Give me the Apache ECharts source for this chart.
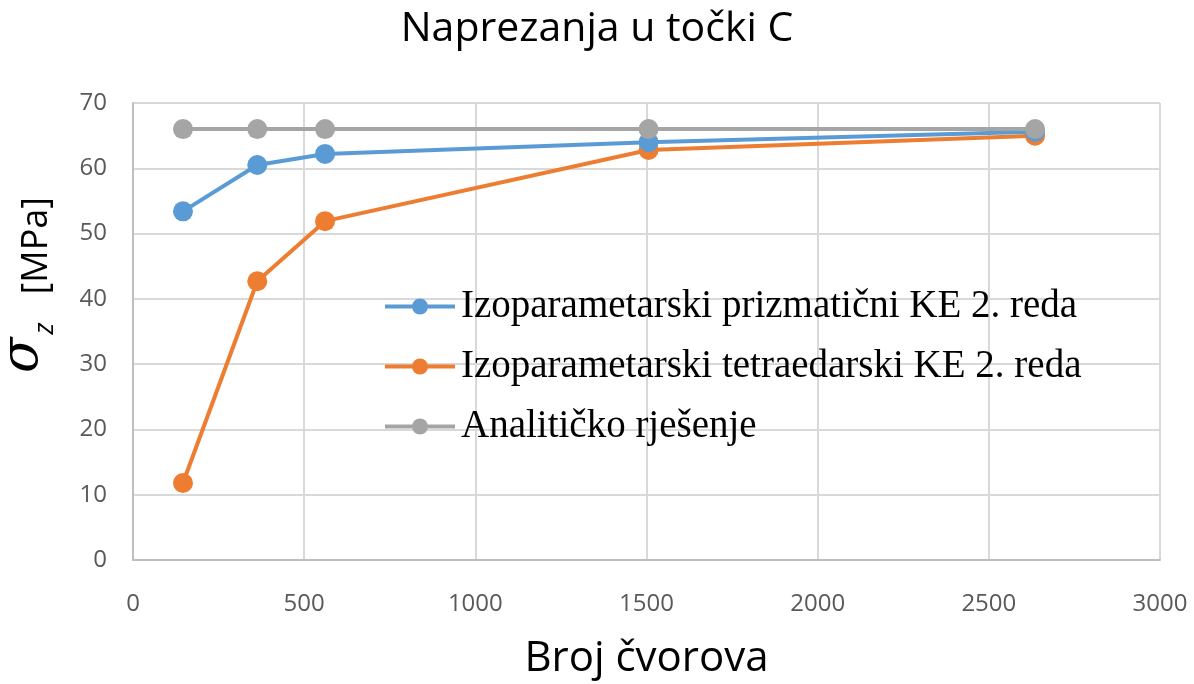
<!DOCTYPE html>
<html>
<head>
<meta charset="utf-8">
<script src="https://cdn.jsdelivr.net/npm/echarts@6/dist/echarts.min.js"></script>
<style>html,body{margin:0;padding:0;background:#fff}#c{width:1194px;height:684px}</style>
</head>
<body>
<div id="c"></div>
<script>
var nodes = [146, 363, 561, 1506, 2635];
var prizmaticni = [53.4, 60.5, 62.2, 64.0, 65.6];
var tetraedarski = [11.8, 42.7, 51.9, 62.8, 65.0];
var analiticko = [66, 66, 66, 66, 66];
var seriesNames = ['Izoparametarski prizmatični KE 2. reda', 'Izoparametarski tetraedarski KE 2. reda', 'Analitičko rješenje'];
var colors = ['#5b9bd5', '#ed7d31', '#a5a5a5'];

function pairs(ys){ return nodes.map(function(x,i){ return [x, ys[i]]; }); }

var chart = echarts.init(document.getElementById('c'));
var mk = function(name, ys, color, z){
  return {
    name: name, type: 'line', data: pairs(ys), z: z,
    symbol: 'circle', symbolSize: 20,
    lineStyle: {color: color, width: 4},
    itemStyle: {color: color},
    animation: false
  };
};
chart.setOption({
  animation: false,
  title: {
    text: 'Naprezanja u točki C', left: 'center', top: 4,
    textStyle: {fontFamily: 'Open Sans', fontWeight: 'normal', fontSize: 41, color: '#000'}
  },
  grid: {left: 133, right: 34, top: 103, bottom: 124, containLabel: false, outerBoundsMode: 'none'},
  legend: {
    orient: 'vertical', left: 378, top: 282, itemGap: 21,
    itemWidth: 70, itemHeight: 20,
    lineStyle: {width: 4},
    textStyle: {fontFamily: 'Liberation Serif', fontSize: 39, color: '#000', padding: [0,0,0,1]},
    data: seriesNames
  },
  xAxis: {
    type: 'value', min: 0, max: 3000, interval: 500,
    name: 'Broj čvorova', nameLocation: 'middle', nameGap: 78,
    nameTextStyle: {fontFamily: 'Open Sans', fontSize: 42, color: '#000'},
    axisLine: {show: true, lineStyle: {color: '#bfbfbf', width: 2}},
    axisTick: {show: false},
    axisLabel: {fontFamily: 'Open Sans', fontSize: 24, color: '#595959', margin: 32,
      formatter: function(v){ return String(v); }},
    splitLine: {show: true, lineStyle: {color: '#d9d9d9', width: 2}}
  },
  yAxis: {
    type: 'value', min: 0, max: 70, interval: 10,
    name: '{s|σ}{z|z}{u|   [MPa]}', nameLocation: 'middle', nameGap: 70,
    nameTextStyle: {
      padding: [0, 0, 0, 93],
      rich: {
        s: {fontFamily: 'DejaVu Serif', fontStyle: 'italic', fontSize: 52, color: '#000', verticalAlign: 'middle', padding: [0,0,14,0]},
        z: {fontFamily: 'Open Sans', fontStyle: 'italic', fontSize: 27, color: '#000', verticalAlign: 'middle', padding: [30,0,0,3]},
        u: {fontFamily: 'Open Sans', fontSize: 36, color: '#000', verticalAlign: 'middle', padding: [14,0,0,0]}
      }
    },
    axisLine: {show: true, lineStyle: {color: '#bfbfbf', width: 2}},
    axisTick: {show: false},
    axisLabel: {fontFamily: 'Open Sans', fontSize: 24, color: '#595959', margin: 26},
    splitLine: {show: true, lineStyle: {color: '#d9d9d9', width: 2}}
  },
  series: [
    mk(seriesNames[0], prizmaticni, colors[0], 3),
    mk(seriesNames[1], tetraedarski, colors[1], 2),
    mk(seriesNames[2], analiticko, colors[2], 4)
  ]
});
</script>
</body>
</html>
